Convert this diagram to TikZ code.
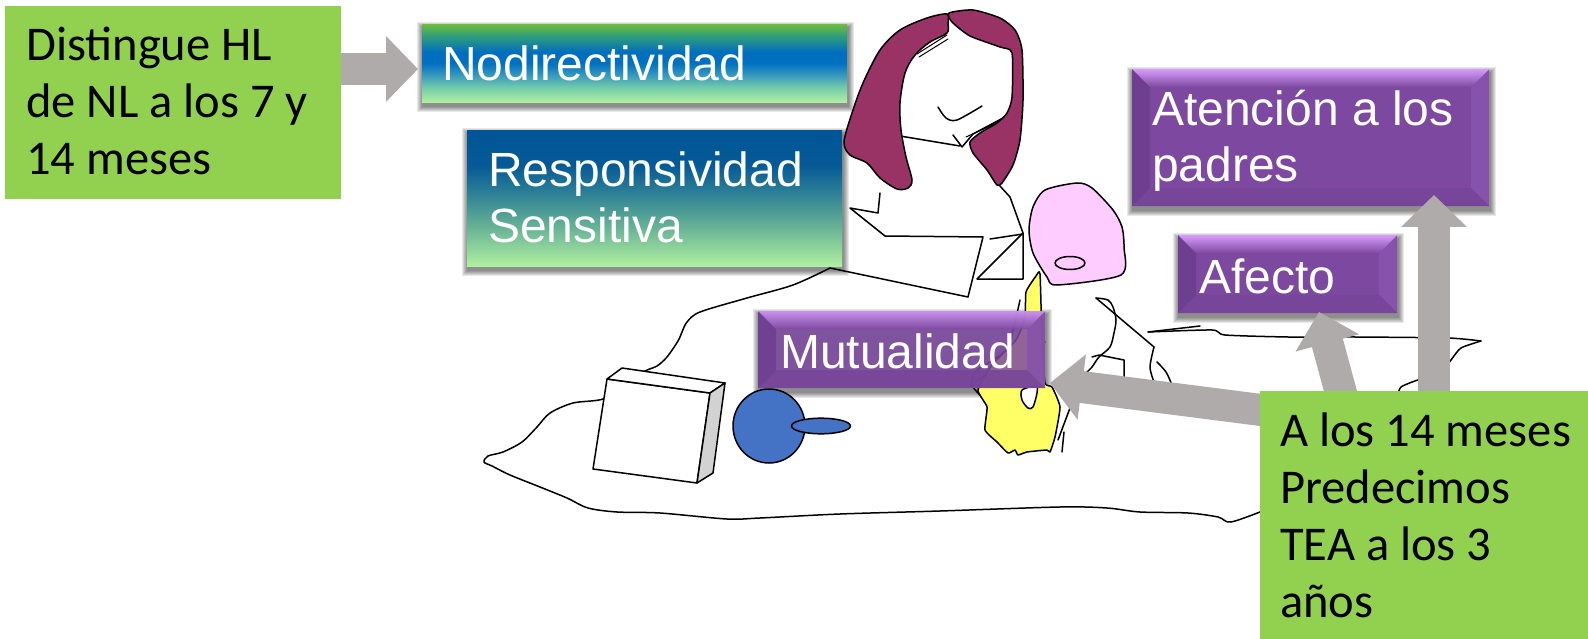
\documentclass[tikz,border=0pt]{standalone}
\usepackage{fontspec}
\newfontfamily\arialf{Liberation Sans}
\newfontfamily\calif{Carlito}
\usetikzlibrary{calc,arrows.meta,backgrounds}
\definecolor{lgreen}{RGB}{146,208,80}
\definecolor{agray}{RGB}{175,171,171}
\definecolor{hair}{RGB}{153,51,102}
\definecolor{kidpink}{RGB}{255,204,255}
\definecolor{yel}{RGB}{255,255,102}
\definecolor{ballblue}{RGB}{68,114,196}
\definecolor{sidegray}{RGB}{210,210,210}
\definecolor{pbase}{RGB}{125,73,160}
\definecolor{ptop}{RGB}{214,155,250}
\definecolor{pleft}{RGB}{110,62,145}
\definecolor{pright}{RGB}{135,82,171}
\definecolor{pbot}{RGB}{119,69,153}
\pgfdeclareverticalshading{nodirsh}{100bp}{rgb(0bp)=(0.686,0.941,0.627); rgb(25bp)=(0.686,0.941,0.627); rgb(35bp)=(0.431,0.784,0.667); rgb(43bp)=(0.196,0.588,0.745); rgb(50bp)=(0,0.439,0.753); rgb(57bp)=(0,0.431,0.745); rgb(68bp)=(0.196,0.627,0.471); rgb(75bp)=(0.431,0.745,0.235); rgb(100bp)=(0.431,0.745,0.235)}
\pgfdeclareverticalshading{respsh}{100bp}{rgb(0bp)=(0.686,0.941,0.627); rgb(25bp)=(0.686,0.941,0.627); rgb(39bp)=(0.412,0.706,0.588); rgb(52bp)=(0.176,0.502,0.588); rgb(62bp)=(0.020,0.353,0.588); rgb(75bp)=(0,0.333,0.588); rgb(100bp)=(0,0.333,0.588)}
\newcommand\mkshadow[1]{%
  \begin{pgfonlayer}{background}
  \foreach \k in {1,...,6}{\fill[black,opacity=0.09] ($(#1.north west)+(1-\k,4-\k)$) rectangle ($(#1.south east)+(1+\k,4+\k)$);}
  \end{pgfonlayer}}
\begin{document}
\begin{tikzpicture}[x=1pt,y=-1pt,
  ln/.style={line width=1.5pt, line join=round, line cap=round},
  bigarrow/.style={draw=agray, line width=32pt, -{Triangle[length=32pt,width=64pt]}},
  greenbox/.style={rectangle, fill=lgreen, inner sep=0pt, anchor=north west},
  gradbox/.style={rectangle, inner sep=0pt, anchor=north west},
  sanslbl/.style={font=\arialf\fontsize{48}{56}\selectfont, text=white, inner sep=0pt, anchor=base west},
  calilbl/.style={font=\calif\fontsize{48.5}{57}\selectfont, text=black, inner sep=0pt, anchor=base west},
  pbox/.style={rectangle, inner sep=0pt, anchor=north west, fill=pbase,
    path picture={
      \coordinate (q1) at (path picture bounding box.north west);
      \coordinate (q2) at (path picture bounding box.north east);
      \coordinate (q3) at (path picture bounding box.south east);
      \coordinate (q4) at (path picture bounding box.south west);
      \fill[pleft] (q1) -- ($(q1)+(18,18)$) -- ($(q4)+(18,-18)$) -- (q4) -- cycle;
      \fill[pright] (q2) -- ($(q2)+(-18,18)$) -- ($(q3)+(-18,-18)$) -- (q3) -- cycle;
      \fill[pbot] (q4) -- ($(q4)+(18,-18)$) -- ($(q3)+(-18,-18)$) -- (q3) -- cycle;
      \shade[top color=ptop, bottom color=pbase] (q1) -- (q2) -- ($(q2)+(-18,18)$) -- ($(q1)+(18,18)$) -- cycle;
    }}
]
\useasboundingbox (0,0) rectangle (1588,639);
\begin{pgfonlayer}{background}\fill[white] (0,0) rectangle (1588,639);\end{pgfonlayer}

% ---------- mat ----------
\draw[ln] plot[smooth, tension=0.5] coordinates {(830,268) (793,285) (747,298) (700,312) (687,322) (682,332) (678,341) (667,357) (657,366) (645,371) (620,385) (603,399) (573,403) (550,413) (537,427) (522,442) (503,452) (488,456) (484,462) (492,466) (510,475) (540,487) (567,498) (588,508) (617,512) (660,513) (727,519) (760,518) (840,514) (940,511) (1060,507) (1107,508) (1140,512) (1188,513) (1218,517) (1231,522) (1265,510)};
\draw[ln] (1148,332) -- (1200,326);
\draw[ln] plot[smooth, tension=0.4] coordinates {(1148,332) (1212,330) (1225,335) (1288,337) (1355,337) (1448,338) (1481,341)};
\draw[ln] plot[smooth, tension=0.4] coordinates {(1481,341) (1461,348) (1451,360) (1438,377) (1418,380) (1401,387) (1398,395)};

% ---------- mother ----------
\draw[ln] (968,297) -- (830,268);
\draw[ln] (880,193) -- (878,213) -- (850,208) -- (885,236) -- (983,237) -- (968,297);
\draw[ln] (999,185) -- (1010,197) -- (1023,233) -- (1023,279) -- (977,279) -- (1023,233);
\draw[ln] (990,239) -- (1023,234);
\draw[ln] (900,136) -- (960,146);
\draw[ln] (953,135) -- (962,147) -- (973,134) -- (1003,118);
\draw[ln, line width=1pt] (966,137) -- (1001,121);
\draw[ln, line width=1pt] (917,54) -- (947,35);
\draw[ln, line width=1pt] (919,57) -- (948,39);
\draw[ln] plot[smooth] coordinates {(938,107) (946,118) (957,120) (982,106)};
\filldraw[ln, fill=hair] plot[smooth cycle, tension=0.5] coordinates {(947,14) (927,18) (900,30) (880,50) (863,83) (852,113) (844,142) (850,155) (867,163) (880,178) (897,189) (908,188) (912,180) (906,157) (901,130) (900,103) (905,73) (915,55) (930,42) (947,33) (948,23)};
\filldraw[ln, fill=hair] plot[smooth cycle, tension=0.4] coordinates {(949,13) (973,10) (1000,18) (1015,30) (1022,50) (1023,100) (1020,140) (1013,165) (1002,183) (997,185) (987,170) (973,153) (970,142) (980,133) (997,123) (1007,113) (1012,97) (1012,53) (1000,47) (970,36) (952,22)};

% ---------- child ----------
\draw[ln] plot[smooth, tension=0.5] coordinates {(1020,300) (1016,318) (1013,330) (1008,348) (990,362) (975,372) (972,385) (980,395)};
\draw[ln] plot[smooth, tension=0.5] coordinates {(975,382) (1005,362) (1045,342)};
\filldraw[ln, fill=yel] plot[smooth cycle, tension=0.3] coordinates {(1036,276) (1026,292) (1025,318) (1016,340) (992,365) (978,390) (987,407) (985,430) (997,442) (1008,453) (1015,450) (1018,455) (1027,452) (1047,450) (1050,452) (1055,437) (1060,407) (1052,387) (1045,383) (1042,340) (1040,274)};
\filldraw[ln, fill=white] plot[smooth cycle, tension=0.5] coordinates {(1022,390) (1022,400) (1028,408) (1033,407) (1037,393) (1036,386)};
\draw[ln] (1058,440) -- (1070,408);
\draw[ln] (1062,452) -- (1064,432);
\filldraw[ln, fill=kidpink] plot[smooth cycle, tension=0.45] coordinates {(1045,190) (1077,183) (1092,188) (1113,210) (1122,227) (1124,247) (1121,275) (1057,285) (1047,277) (1033,253) (1029,230) (1033,207)};
\draw[ln] (1070,263) ellipse [x radius=15, y radius=6.5];
\draw[ln] plot[smooth, tension=0.5] coordinates {(1086,373) (1092,367) (1099,357) (1110,347) (1114,333) (1116,320) (1113,307) (1108,300) (1096,298)};
\draw[ln] (1096,298) -- (1154,347);
\draw[ln] plot[smooth] coordinates {(1154,347) (1150,367) (1154,382)};
\draw[ln] plot[smooth] coordinates {(1157,362) (1166,372) (1172,385)};
\draw[ln] (1092,357) -- (1099,355) -- (1124,360) -- (1124,378);

% ---------- toys ----------
\filldraw[ln, fill=white] (607,379) -- (710,393) -- (697,483) -- (593,469) -- cycle;
\filldraw[ln, fill=white] (607,379) -- (622,368) -- (725,383) -- (710,393) -- cycle;
\filldraw[ln, fill=sidegray] (710,393) -- (725,383) -- (713,473) -- (697,483) -- cycle;
\filldraw[ln, fill=ballblue] (769,426) ellipse [x radius=36, y radius=37];
\filldraw[ln, fill=ballblue] (821,426) ellipse [x radius=29.5, y radius=7.8];

% ---------- gradient boxes ----------
\node[gradbox, shading=nodirsh, minimum width=425pt, minimum height=78pt] (nodir) at (422,24) {};
\mkshadow{nodir}
\node[sanslbl] (nodirt) at (442,81) {Nodirectividad};
\node[gradbox, shading=respsh, minimum width=375pt, minimum height=136pt] (resp) at (467,130) {};
\mkshadow{resp}
\node[sanslbl] (respt) at (488,187) {\vtop{\hbox{Responsividad}\hbox{Sensitiva}}};

% ---------- purple boxes ----------
\node[pbox, minimum width=357pt, minimum height=137pt] (aten) at (1132,69) {};
\mkshadow{aten}
\node[sanslbl] (atent) at (1152,126) {\vtop{\hbox{Atención a los}\hbox{padres}}};
\node[pbox, minimum width=219pt, minimum height=78pt] (afec) at (1178,235) {};
\mkshadow{afec}
\node[sanslbl] (afect) at (1199,293) {Afecto};
\node[pbox, fill opacity=0.85, minimum width=287pt, minimum height=77pt] (mutu) at (758,311) {};
\mkshadow{mutu}
\node[sanslbl] (mutut) at (780,368) {Mutualidad};

% ---------- arrows ----------
\coordinate (a1s) at (322,69); \coordinate (a1t) at (418,69);
\coordinate (a2s) at (1434,430); \coordinate (a2t) at (1434,195);
\coordinate (a3s) at (1351,430); \coordinate (a3t) at (1319,312);
\coordinate (a4s) at (1300,415); \coordinate (a4t) at (1050,383);
\draw[bigarrow] (a1s) -- (a1t);
\draw[bigarrow] (a2s) -- (a2t);
\draw[bigarrow] (a3s) -- (a3t);
\draw[bigarrow] (a4s) -- (a4t);

% ---------- green boxes ----------
\node[greenbox, minimum width=336pt, minimum height=193pt] (g1) at (5,6) {};
\node[calilbl] (g1t) at (26,61) {\vtop{\hbox{Distingue HL}\hbox{de NL a los 7 y}\hbox{14 meses}}};
\node[greenbox, minimum width=340pt, minimum height=260pt] (g2) at (1260,391) {};
\node[calilbl] (g2t) at (1280,446) {\vtop{\hbox{A los 14 meses}\hbox{Predecimos}\hbox{TEA a los 3}\hbox{años}}};
\end{tikzpicture}
\end{document}
